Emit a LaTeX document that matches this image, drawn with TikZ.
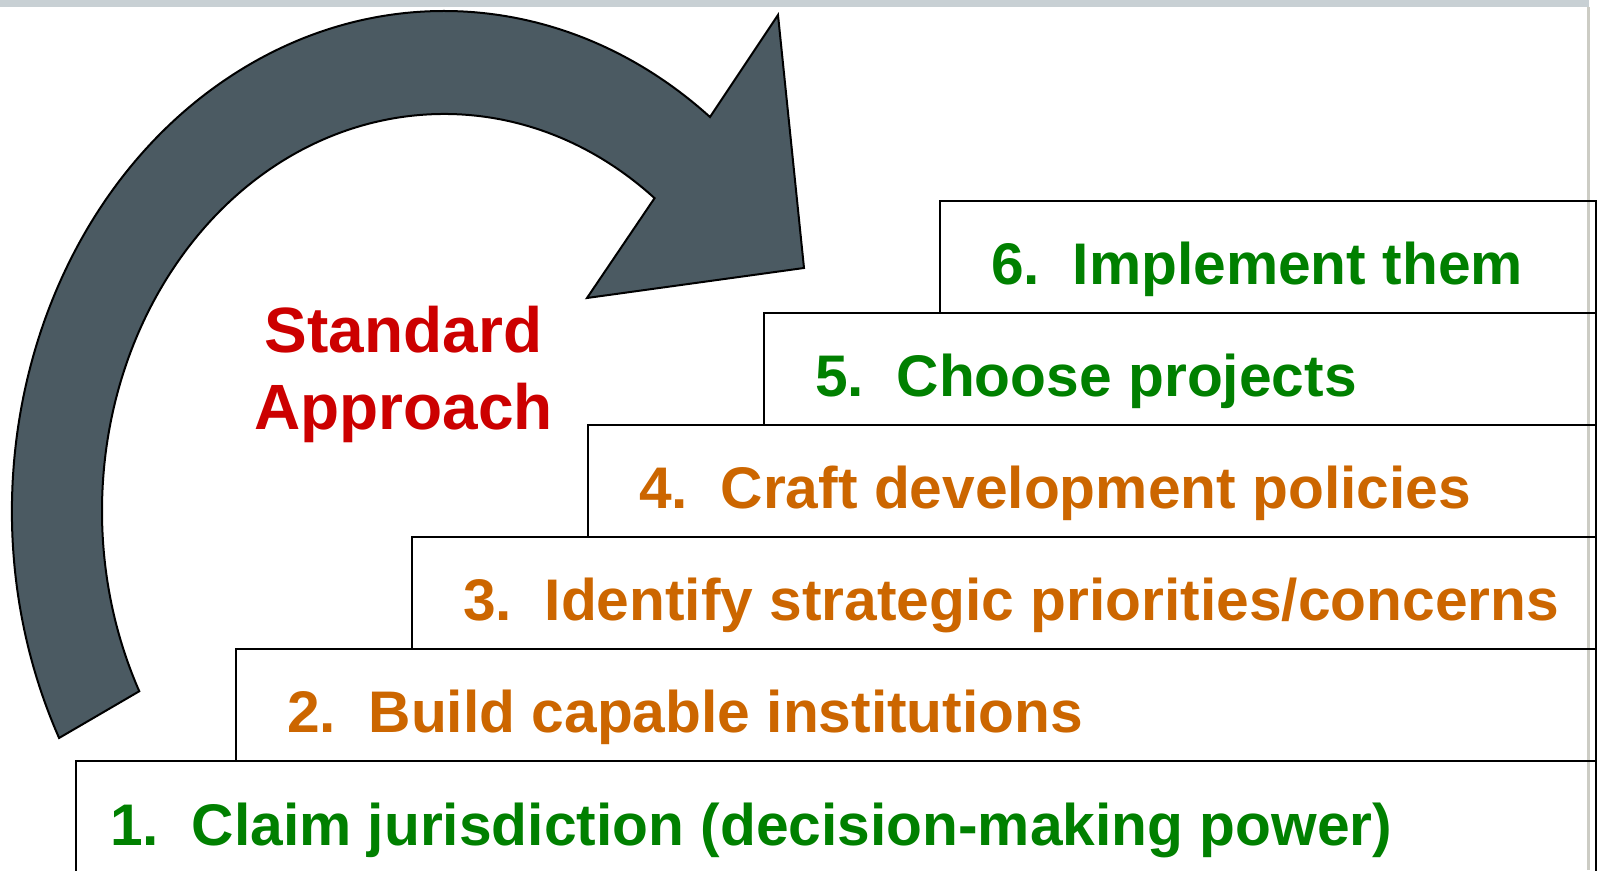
\documentclass[tikz,border=0pt]{standalone}
\usepackage{fontspec}
\setmainfont{Liberation Sans}
\usetikzlibrary{positioning,calc}
\definecolor{stepgreen}{RGB}{0,128,0}
\definecolor{steporange}{RGB}{204,102,0}
\definecolor{approachred}{RGB}{204,0,0}
\definecolor{arrowgray}{RGB}{75,90,98}
\definecolor{topgray}{RGB}{200,208,212}
\definecolor{edgegray}{RGB}{204,204,196}

\begin{document}
\begin{tikzpicture}[
        x=1pt, y=1pt,
        stepbox/.style={
            rectangle,
            draw=black,
            line width=2pt,
            minimum height=112pt,
            inner sep=0pt,
            outer sep=0pt
        },
        steplabel/.style={
            anchor=base west,
            inner sep=0pt,
            font=\fontsize{58.7}{70}\selectfont\bfseries
        },
        approachlabel/.style={
            anchor=base,
            inner sep=0pt,
            align=center,
            text=approachred,
            font=\fontsize{64}{77}\selectfont\bfseries
        },
        bigarrow/.style={
            fill=arrowgray,
            draw=black,
            line width=2pt
        }
    ]
    \useasboundingbox (0,0) rectangle (1600,870);

    % Slide frame
    \fill[topgray] (0,863) rectangle (1589,870);
    \fill[edgegray] (1586.5,0) rectangle (1589.5,863);

    % Steps (bottom to top)
    \node[stepbox, anchor=north west, minimum width=1520pt] (s1) at (76,109) {};
    \node[stepbox, anchor=south west, minimum width=1360pt] (s2) at ([xshift=160pt]s1.north west) {};
    \node[stepbox, anchor=south west, minimum width=1184pt] (s3) at ([xshift=176pt]s2.north west) {};
    \node[stepbox, anchor=south west, minimum width=1008pt] (s4) at ([xshift=176pt]s3.north west) {};
    \node[stepbox, anchor=south west, minimum width=832pt] (s5) at ([xshift=176pt]s4.north west) {};
    \node[stepbox, anchor=south west, minimum width=656pt] (s6) at ([xshift=176pt]s5.north west) {};

    % Step texts
    \node[steplabel, text=stepgreen] (t1) at ([shift={(34,-84)}]s1.north west) {1.~~Claim jurisdiction (decision-making power)};
    \node[steplabel, text=steporange] (t2) at ([shift={(51,-84)}]s2.north west) {2.~~Build capable institutions};
    \node[steplabel, text=steporange] (t3) at ([shift={(51,-84)}]s3.north west) {3.~~Identify strategic priorities/concerns};
    \node[steplabel, text=steporange] (t4) at ([shift={(51,-84)}]s4.north west) {4.~~Craft development policies};
    \node[steplabel, text=stepgreen] (t5) at ([shift={(51,-84)}]s5.north west) {5.~~Choose projects};
    \node[steplabel, text=stepgreen] (t6) at ([shift={(51,-84)}]s6.north west) {6.~~Implement them};

    % Curved arrow
    \coordinate (hub) at (444,359);
    \filldraw[bigarrow] ($(hub)+(207:432 and 500)$)
        arc[start angle=207, end angle=52, x radius=432pt, y radius=500pt]
        -- (778,855) -- (804,602) -- (587,572)
        -- ($(hub)+(52:342 and 397)$)
        arc[start angle=52, end angle=207, x radius=342pt, y radius=397pt]
        -- cycle;

    % Title
    \node[approachlabel] (approach) at (403.5,440) {Standard\\Approach};

\end{tikzpicture}
\end{document}
